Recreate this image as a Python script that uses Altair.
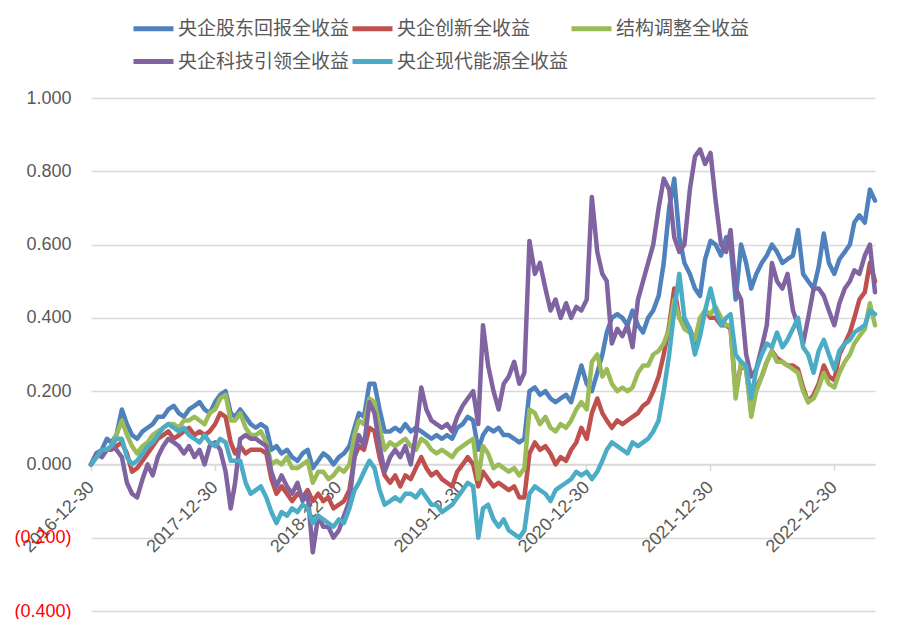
import calendar
import altair as alt
import pandas as pd

names = ["央企股东回报全收益", "央企创新全收益", "结构调整全收益", "央企科技引领全收益", "央企现代能源全收益"]
colors = ["#4F81BD", "#C0504D", "#9BBB59", "#8064A2", "#4BACC6"]

# semi-monthly observation dates (start 2016-12-30, then 15th and month end up to 2023-04)
dates = ["2016-12-30"]
for yy in range(2017, 2024):
    for mm in range(1, 13):
        if yy == 2023 and mm > 4:
            break
        dates.append(f"{yy}-{mm:02d}-15")
        dates.append(f"{yy}-{mm:02d}-{calendar.monthrange(yy, mm)[1]:02d}")

blue = [
    0.00, 0.03, 0.04, 0.07, 0.06, 0.08, 0.15, 0.11, 0.08, 0.07, 0.09, 0.10, 0.11, 0.13, 0.13, 0.15, 0.16, 0.14, 0.13, 0.15, 0.16, 0.17, 0.15, 0.14,
    0.17, 0.19, 0.20, 0.14, 0.13, 0.15, 0.13, 0.11, 0.10, 0.11, 0.10, 0.04, 0.05, 0.03, 0.04, 0.02, 0.01, 0.03, 0.04, -0.01, 0.01, 0.03, 0.02, 0.00,
    0.02, 0.03, 0.05, 0.10, 0.14, 0.13, 0.22, 0.22, 0.15, 0.09, 0.09, 0.10, 0.09, 0.11, 0.09, 0.10, 0.09, 0.08, 0.07, 0.08, 0.07, 0.08, 0.07, 0.10,
    0.11, 0.13, 0.12, 0.04, 0.08, 0.10, 0.09, 0.10, 0.08, 0.08, 0.07, 0.06, 0.07, 0.20, 0.21, 0.19, 0.20, 0.18, 0.17, 0.18, 0.19, 0.17, 0.22, 0.27,
    0.22, 0.20, 0.25, 0.30, 0.36, 0.40, 0.41, 0.40, 0.38, 0.42, 0.38, 0.36, 0.40, 0.42, 0.46, 0.55, 0.70, 0.78, 0.62, 0.55, 0.52, 0.48, 0.46, 0.56,
    0.61, 0.60, 0.57, 0.62, 0.60, 0.45, 0.60, 0.55, 0.48, 0.52, 0.55, 0.57, 0.60, 0.58, 0.55, 0.56, 0.57, 0.64, 0.52, 0.50, 0.48, 0.54, 0.63, 0.55,
    0.52, 0.56, 0.58, 0.60, 0.66, 0.68, 0.66, 0.75, 0.72,
]
red = [
    0.00, 0.02, 0.03, 0.04, 0.04, 0.05, 0.06, 0.03, -0.02, -0.01, 0.01, 0.03, 0.05, 0.07, 0.08, 0.09, 0.07, 0.08, 0.09, 0.10, 0.08, 0.09, 0.08, 0.09,
    0.11, 0.14, 0.13, 0.06, 0.03, 0.05, 0.03, 0.04, 0.04, 0.04, 0.03, -0.04, -0.08, -0.06, -0.08, -0.10, -0.08, -0.09, -0.07, -0.10, -0.08, -0.10, -0.09, -0.12,
    -0.11, -0.10, -0.07, 0.02, 0.05, 0.04, 0.10, 0.09, 0.02, -0.03, -0.05, -0.03, -0.06, -0.03, -0.04, -0.01, 0.02, -0.01, -0.03, -0.02, -0.04, -0.05, -0.06, -0.02,
    0.00, 0.02, 0.00, -0.06, -0.02, -0.04, -0.06, -0.05, -0.06, -0.07, -0.06, -0.09, -0.09, 0.03, 0.06, 0.04, 0.05, 0.03, 0.00, 0.02, 0.01, 0.04, 0.06, 0.10,
    0.07, 0.14, 0.18, 0.14, 0.12, 0.10, 0.12, 0.11, 0.12, 0.13, 0.14, 0.16, 0.17, 0.20, 0.24, 0.30, 0.38, 0.48, 0.40, 0.39, 0.37, 0.33, 0.39, 0.42,
    0.40, 0.40, 0.38, 0.38, 0.37, 0.20, 0.27, 0.26, 0.15, 0.21, 0.24, 0.28, 0.31, 0.29, 0.28, 0.27, 0.27, 0.26, 0.21, 0.17, 0.19, 0.22, 0.27, 0.24,
    0.23, 0.30, 0.33, 0.36, 0.40, 0.45, 0.47, 0.55, 0.50,
]
green = [
    0.00, 0.02, 0.03, 0.04, 0.05, 0.08, 0.12, 0.08, 0.05, 0.03, 0.05, 0.06, 0.08, 0.09, 0.10, 0.11, 0.11, 0.10, 0.12, 0.12, 0.13, 0.12, 0.11, 0.14,
    0.15, 0.18, 0.19, 0.12, 0.12, 0.14, 0.10, 0.08, 0.08, 0.09, 0.06, 0.00, 0.01, 0.00, 0.02, -0.01, -0.01, 0.00, 0.01, -0.05, -0.02, -0.02, -0.04, -0.03,
    -0.01, -0.02, 0.00, 0.08, 0.12, 0.11, 0.18, 0.17, 0.10, 0.04, 0.06, 0.05, 0.06, 0.07, 0.05, 0.04, 0.07, 0.06, 0.04, 0.03, 0.04, 0.03, 0.02, 0.04,
    0.05, 0.06, 0.07, -0.04, 0.05, 0.03, -0.01, 0.00, -0.01, -0.02, -0.01, -0.03, -0.01, 0.15, 0.14, 0.11, 0.13, 0.10, 0.09, 0.11, 0.10, 0.12, 0.15, 0.17,
    0.15, 0.28, 0.30, 0.24, 0.26, 0.22, 0.20, 0.21, 0.20, 0.21, 0.25, 0.27, 0.27, 0.30, 0.31, 0.33, 0.37, 0.45, 0.40, 0.37, 0.36, 0.34, 0.40, 0.42,
    0.41, 0.43, 0.40, 0.38, 0.38, 0.18, 0.28, 0.26, 0.13, 0.20, 0.24, 0.28, 0.31, 0.28, 0.28, 0.27, 0.26, 0.25, 0.20, 0.17, 0.18, 0.21, 0.25, 0.22,
    0.21, 0.25, 0.28, 0.30, 0.33, 0.35, 0.37, 0.44, 0.38,
]
purple = [
    0.00, 0.03, 0.02, 0.04, 0.05, 0.04, 0.02, -0.05, -0.08, -0.09, -0.04, 0.00, -0.03, 0.02, 0.05, 0.07, 0.06, 0.05, 0.03, 0.05, 0.02, 0.04, 0.00, 0.05,
    0.06, 0.04, -0.02, -0.12, -0.05, 0.07, 0.08, 0.07, 0.07, 0.06, 0.05, -0.02, -0.06, -0.03, -0.06, -0.08, -0.05, -0.10, -0.08, -0.24, -0.14, -0.17, -0.17, -0.20,
    -0.18, -0.14, -0.10, 0.02, 0.08, 0.05, 0.17, 0.14, 0.05, -0.02, 0.02, 0.04, 0.02, 0.05, 0.00, 0.08, 0.21, 0.15, 0.12, 0.11, 0.10, 0.11, 0.09, 0.13,
    0.16, 0.18, 0.20, 0.11, 0.38, 0.27, 0.20, 0.15, 0.22, 0.24, 0.28, 0.22, 0.25, 0.61, 0.52, 0.55, 0.48, 0.42, 0.45, 0.40, 0.44, 0.40, 0.43, 0.42,
    0.45, 0.73, 0.58, 0.52, 0.50, 0.33, 0.37, 0.35, 0.38, 0.32, 0.45, 0.50, 0.55, 0.60, 0.70, 0.78, 0.75, 0.62, 0.58, 0.60, 0.75, 0.84, 0.86, 0.82,
    0.85, 0.72, 0.60, 0.58, 0.64, 0.48, 0.45, 0.30, 0.24, 0.26, 0.32, 0.38, 0.55, 0.50, 0.48, 0.52, 0.42, 0.38, 0.33, 0.40, 0.48, 0.48, 0.46, 0.42,
    0.38, 0.44, 0.48, 0.50, 0.53, 0.52, 0.57, 0.60, 0.47,
]
cyan = [
    0.00, 0.02, 0.04, 0.04, 0.05, 0.07, 0.07, 0.02, 0.00, 0.01, 0.03, 0.05, 0.06, 0.08, 0.10, 0.11, 0.10, 0.09, 0.10, 0.08, 0.07, 0.06, 0.08, 0.06,
    0.05, 0.07, 0.06, 0.01, 0.01, 0.01, -0.05, -0.08, -0.07, -0.06, -0.09, -0.13, -0.16, -0.13, -0.14, -0.12, -0.13, -0.11, -0.12, -0.16, -0.14, -0.15, -0.16, -0.17,
    -0.15, -0.16, -0.12, -0.07, -0.05, -0.02, 0.01, -0.01, -0.07, -0.11, -0.10, -0.09, -0.10, -0.08, -0.08, -0.09, -0.07, -0.09, -0.11, -0.11, -0.13, -0.12, -0.11, -0.09,
    -0.07, -0.05, -0.06, -0.20, -0.12, -0.11, -0.15, -0.17, -0.15, -0.18, -0.19, -0.20, -0.18, -0.08, -0.06, -0.07, -0.08, -0.10, -0.07, -0.06, -0.05, -0.04, -0.02, -0.03,
    -0.02, -0.04, -0.02, 0.01, 0.04, 0.06, 0.05, 0.04, 0.03, 0.06, 0.05, 0.06, 0.07, 0.09, 0.12, 0.20, 0.30, 0.42, 0.52, 0.40, 0.37, 0.30, 0.35, 0.42,
    0.48, 0.42, 0.38, 0.40, 0.41, 0.30, 0.28, 0.27, 0.18, 0.26, 0.30, 0.33, 0.32, 0.36, 0.32, 0.34, 0.37, 0.40, 0.32, 0.30, 0.25, 0.31, 0.34, 0.30,
    0.26, 0.31, 0.33, 0.34, 0.36, 0.37, 0.38, 0.42, 0.41,
]

series_values = [blue, red, green, purple, cyan]
y_ticks = [-0.4, -0.2, 0.0, 0.2, 0.4, 0.6, 0.8, 1.0]
x_tick_years = [2016, 2017, 2018, 2019, 2020, 2021, 2022]

rows = []
for name, vals in zip(names, series_values):
    for d, v in zip(dates, vals):
        rows.append({"date": d, "series": name, "value": v})
df = pd.DataFrame(rows)

W, H = 784, 513
zero_offset = -H * 0.4 / 1.4

x_values = [alt.DateTime(year=y, month=12, date=30, utc=True) for y in x_tick_years]

chart = (
    alt.Chart(df)
    .mark_line(strokeWidth=4.5, strokeJoin="round", strokeCap="round")
    .encode(
        x=alt.X(
            "date:T",
            scale=alt.Scale(
                type="utc",
                domain=[
                    alt.DateTime(year=2016, month=12, date=30, utc=True),
                    alt.DateTime(year=2023, month=4, date=30, utc=True),
                ],
            ),
            axis=alt.Axis(
                values=x_values,
                format="%Y-%m-%d",
                labelAngle=-45,
                labelAlign="right",
                labelBaseline="middle",
                labelPadding=14,
                labelFontSize=18,
                labelFont="Liberation Sans",
                labelColor="#595959",
                labelOverlap=False,
                labelFlush=False,
                labelBound=False,
                tickColor="#D9D9D9",
                tickSize=6,
                tickWidth=1.5,
                domainColor="#D9D9D9",
                domainWidth=1.5,
                grid=False,
                offset=zero_offset,
                title=None,
            ),
        ),
        y=alt.Y(
            "value:Q",
            scale=alt.Scale(domain=[-0.4, 1.0], nice=False, zero=False),
            axis=alt.Axis(
                values=y_ticks,
                labelExpr="datum.value < 0 ? '(' + format(-datum.value, '.3f') + ')' : format(datum.value, '.3f')",
                labelColor={"condition": {"test": "datum.value < 0", "value": "#FF0000"}, "value": "#595959"},
                labelFontSize=18,
                labelFont="Liberation Sans",
                labelPadding=20,
                ticks=False,
                tickSize=0,
                domain=False,
                grid=True,
                gridColor="#D9D9D9",
                gridWidth=1.5,
                title=None,
            ),
        ),
        color=alt.Color(
            "series:N",
            scale=alt.Scale(domain=names, range=colors),
            legend=alt.Legend(
                orient="none",
                legendX=40,
                legendY=-92,
                columns=3,
                direction="horizontal",
                title=None,
                symbolType="stroke",
                symbolSize=1600,
                symbolStrokeWidth=5,
                labelFontSize=19,
                labelFont="Noto Sans CJK SC",
                labelColor="#595959",
                labelLimit=400,
                labelOffset=2,
                columnPadding=-8,
                rowPadding=-2,
                gridAlign="all",
            ),
        ),
    )
    .properties(
        width=W,
        height=H,
        background="white",
        autosize=alt.AutoSizeParams(type="none"),
        padding={"left": 83, "top": 90, "right": 20, "bottom": 8},
    )
    .configure_view(stroke=None)
)

chart.save("out.html", embed_options={"renderer": "svg", "actions": False})
